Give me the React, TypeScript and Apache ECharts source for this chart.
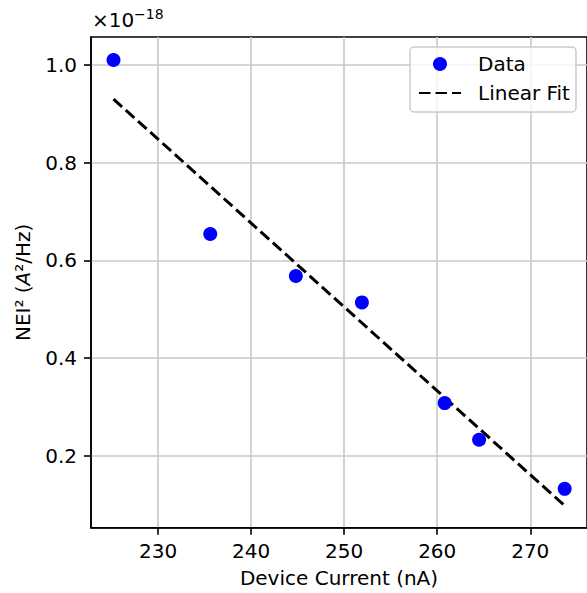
import React, { useEffect, useRef } from "react";
import * as echarts from "echarts";

// Data (values in units of 1e-18 A^2/Hz)
const deviceCurrent = [225.2, 235.6, 244.8, 251.9, 260.8, 264.5, 273.7];
const nei2 = [1.01, 0.654, 0.568, 0.514, 0.308, 0.233, 0.1325];
const fitCurrent = [225.2, 273.7];
const fitNei2 = [0.93, 0.098];
const xTicks = [230, 240, 250, 260, 270];
const yTicks = [0.2, 0.4, 0.6, 0.8, 1.0];
const xRange = [222.78, 276.1];
const yRange = [0.053, 1.057];
const seriesNames = ["Data", "Linear Fit"];

const FONT = "DejaVu Sans";

export default function App() {
  const ref = useRef<HTMLDivElement>(null);
  useEffect(() => {
    document.body.style.margin = "0";
    const chart = echarts.init(ref.current!, null, { renderer: "svg" });
    const axisCommon = {
      axisLine: { show: true, lineStyle: { color: "#000", width: 1.6 } },
      axisTick: { show: true, length: 7, lineStyle: { color: "#000", width: 1.6 } },
      splitLine: { show: true, lineStyle: { color: "#c8c8c8", width: 1.6 } },
      nameTextStyle: { fontFamily: FONT, fontSize: 20, color: "#000" },
    };
    chart.setOption({
      animation: false,
      grid: { left: 91, top: 37, width: 499.5, height: 490.7, show: true, borderColor: "#000", borderWidth: 1.6, backgroundColor: "transparent" },
      xAxis: {
        type: "value",
        min: xRange[0],
        max: xRange[1],
        name: "Device Current (nA)",
        nameLocation: "middle",
        nameGap: 40,
        ...axisCommon,
        axisTick: { ...axisCommon.axisTick, customValues: xTicks },
        axisLabel: { customValues: xTicks, margin: 13, fontFamily: FONT, fontSize: 20, color: "#000" },
      },
      yAxis: {
        type: "value",
        min: yRange[0],
        max: yRange[1],
        name: "NEI² ({i|A}²/Hz)",
        nameLocation: "middle",
        nameGap: 58,
        ...axisCommon,
        nameTextStyle: { ...axisCommon.nameTextStyle, rich: { i: { fontFamily: FONT, fontSize: 20, fontStyle: "italic", color: "#000" } } },
        axisTick: { ...axisCommon.axisTick, customValues: yTicks },
        axisLabel: {
          customValues: yTicks,
          margin: 14,
          fontFamily: FONT,
          fontSize: 20,
          color: "#000",
          formatter: (v: number) => v.toFixed(1),
        },
      },
      legend: {
        left: 410,
        top: 47,
        orient: "vertical",
        itemWidth: 42,
        itemHeight: 14,
        itemGap: 9,
        padding: [7, 6, 9, 8],
        backgroundColor: "rgba(255,255,255,0.8)",
        borderColor: "#cccccc",
        borderWidth: 1.5,
        borderRadius: 4,
        textStyle: { fontFamily: FONT, fontSize: 20, color: "#000", padding: [0, 0, 0, 12] },
        data: [
          { name: seriesNames[0], icon: "circle" },
          { name: seriesNames[1], itemStyle: { opacity: 0 } },
        ],
      },
      graphic: [
        {
          type: "text",
          left: 92,
          top: 10,
          style: { text: "×10", fontFamily: FONT, fontSize: 20, fill: "#000" },
        },
        {
          type: "text",
          left: 134,
          top: 7,
          style: { text: "−18", fontFamily: FONT, fontSize: 14, fill: "#000" },
        },
      ],
      series: [
        {
          name: seriesNames[1],
          type: "line",
          z: 2,
          symbol: "none",
          data: fitCurrent.map((x, i) => [x, fitNei2[i]]),
          lineStyle: { color: "#000", width: 3, type: [11.5, 5] },
          itemStyle: { color: "#000" },
        },
        {
          name: seriesNames[0],
          type: "scatter",
          z: 3,
          symbol: "circle",
          symbolSize: 14,
          data: deviceCurrent.map((x, i) => [x, nei2[i]]),
          itemStyle: { color: "#0000ff", opacity: 1 },
        },
      ],
    });
    return () => chart.dispose();
  }, []);
  return <div ref={ref} style={{ width: 587, height: 593 }} />;
}
